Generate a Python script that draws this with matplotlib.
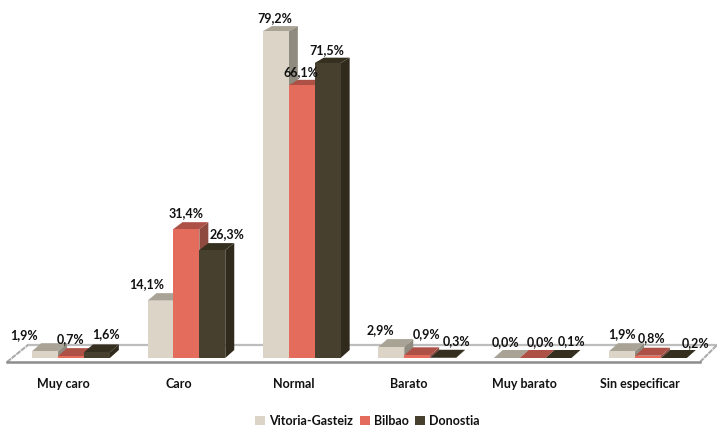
import matplotlib
matplotlib.use('Agg')
import matplotlib.pyplot as plt
from matplotlib.patches import Polygon, Patch

categories = ['Muy caro', 'Caro', 'Normal', 'Barato', 'Muy barato', 'Sin especificar']
vitoria = [1.9, 14.1, 79.2, 2.9, 0.0, 1.9]
bilbao = [0.7, 31.4, 66.1, 0.9, 0.0, 0.8]
donostia = [1.6, 26.3, 71.5, 0.3, 0.1, 0.2]
names = ['Vitoria-Gasteiz', 'Bilbao', 'Donostia']

FRONT = ['#DCD5C7', '#E46C5D', '#48402F']
TOP = ['#A9A396', '#AD5045', '#352F20']
SIDE = ['#908B7F', '#8F4A40', '#2F2A1C']

# label nudges in pixels from the top-centre of each bar, one row per series
nudge_v = [(-21, -8), (-14, -9), (-1, -8), (-11, -9), (-1, -8), (0, -9)]
nudge_b = [(0, -9), (0, -9), (-1, -8), (9, -13), (8, -8), (4, -10)]
nudge_d = [(9, -10), (15, -9), (-1, -8), (13, -9), (13, -9), (22, -7)]

W, H = 717, 428
PX_CAT = 115.4     # pixels per category
PX_PCT = 4.14      # pixels per percent
X0, Y0 = 63, 359   # pixel of category 0 label and of value 0
BAR = 25.9 / PX_CAT
DX = 9 / PX_CAT

plt.rcParams['font.family'] = ['Lato', 'DejaVu Sans']
plt.rcParams['font.weight'] = 'bold'
plt.rcParams['font.size'] = 9

fig = plt.figure(figsize=(W / 100, H / 100), dpi=100, facecolor='white')
ax = fig.add_axes([0, 0, 1, 1])
ax.set_xlim(-X0 / PX_CAT, (W - X0) / PX_CAT)
ax.set_ylim((Y0 - H) / PX_PCT, Y0 / PX_PCT)
ax.axis('off')


def px(x, y):
    return (x - X0) / PX_CAT, (Y0 - y) / PX_PCT


# floor of the 3d box
floor = [px(7, 362), px(700, 362), px(717, 345), px(28, 345)]
ax.plot(*zip(floor[3], floor[2]), color='#BDBDBD', lw=1.6, zorder=2)
ax.plot(*zip(floor[0], floor[3]), color='#ABABAB', lw=1.5, ls=(0, (2.5, 0.4)), zorder=2)
ax.plot(*zip(floor[1], floor[2]), color='#ABABAB', lw=1.5, ls=(0, (2.5, 0.4)), zorder=2)
ax.plot(*zip(floor[0], floor[1]), color='#8C8C8C', lw=1.8, zorder=2)

base = (Y0 - 358) / PX_PCT
z = 3
for s, (vals, nudges) in enumerate(zip([vitoria, bilbao, donostia], [nudge_v, nudge_b, nudge_d])):
    for i, v in enumerate(vals):
        left = i + 8 / PX_CAT + (s - 1.5) * BAR
        top = max(v, base)
        dy = (8 - 3 * v / 80) / PX_PCT
        dy0 = 8 / PX_PCT
        ax.add_patch(Polygon([(left + BAR, base), (left + BAR + DX, base + dy0),
                              (left + BAR + DX, top + dy), (left + BAR, top)],
                             facecolor=SIDE[s], edgecolor='none', zorder=z))
        ax.add_patch(Polygon([(left, top), (left + BAR, top),
                              (left + BAR + DX, top + dy), (left + DX, top + dy)],
                             facecolor=TOP[s], edgecolor='none', zorder=z))
        ax.bar(left, top - base, BAR, bottom=base, align='edge', color=FRONT[s],
               edgecolor='none', zorder=z)
        ax.annotate(f'{v:.1f}%'.replace('.', ','), (left + BAR / 2, top + dy),
                    xytext=(nudges[i][0] * 0.72, -nudges[i][1] * 0.72),
                    textcoords='offset points', ha='center', va='center',
                    color='#111111', zorder=50)
    z += 1

for i, c in enumerate(categories):
    ax.text(i, (Y0 - 384) / PX_PCT, c, ha='center', va='center', color='#111111')

handles = [Patch(facecolor=c, edgecolor='none') for c in FRONT]
fig.legend(handles, names, ncol=3, loc='center', bbox_to_anchor=(367.5 / W, 1 - 421 / H),
           frameon=False, handlelength=0.8, handleheight=0.8, handletextpad=0.35,
           columnspacing=0.5, borderpad=0, labelcolor='#111111')

fig.savefig('out.png', dpi=100, facecolor='white')
